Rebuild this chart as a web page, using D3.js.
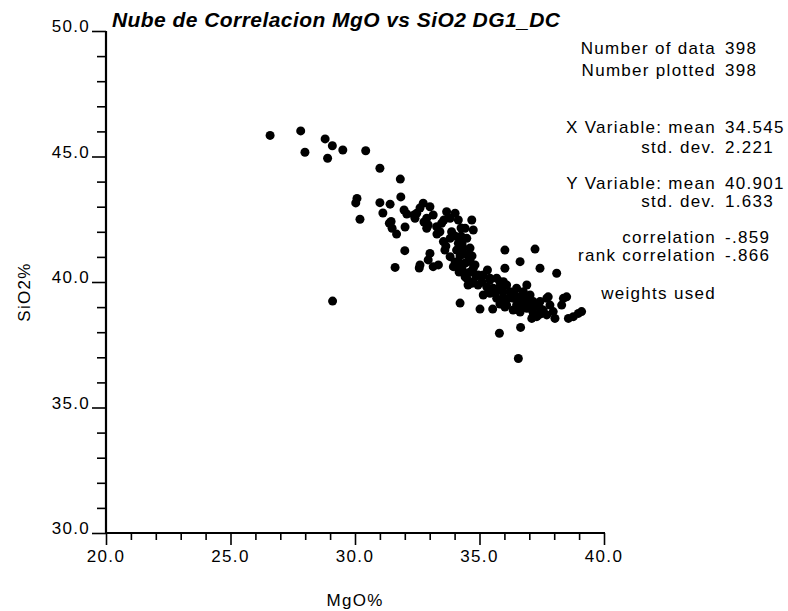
<!DOCTYPE html>
<html><head><meta charset="utf-8">
<script src="https://cdn.jsdelivr.net/npm/d3@7"></script>
<style>
html,body{margin:0;padding:0;background:#fff;}
svg text{font-family:"Liberation Sans",Arial,Helvetica,sans-serif;fill:#000;}
</style></head>
<body><svg id="chart" width="788" height="611"></svg>
<script>
const titleText = "Nube de Correlacion MgO vs SiO2 DG1_DC";
const xLabel = "MgO%";
const yLabel = "SiO2%";
const xTicks = [20, 25, 30, 35, 40];
const yTicks = [30, 35, 40, 45, 50];
const statLabels = ["Number of data","Number plotted","X Variable: mean","std. dev.","Y Variable: mean","std. dev.","correlation","rank correlation","weights used"];
const statValues = ["398","398","34.545","2.221","40.901","1.633","-.859","-.866",""];
const mgo = [26.59,27.82,27.99,28.80,29.09,29.51,28.90,30.43,31.00,31.82,30.08,30.03,30.20,31.00,31.41,31.12,31.84,31.97,32.08,31.45,31.38,31.49,31.67,32.01,32.37,32.00,31.61,32.58,29.10,
32.74,33.01,32.48,32.41,32.88,33.14,32.94,33.28,33.48,33.68,34.02,34.15,33.82,33.41,33.55,33.82,33.88,34.69,34.75,34.42,34.49,34.15,34.08,34.35,34.49,34.55,34.15,33.82,33.01,32.94,32.61,33.14,33.35,33.95,34.35,34.49,34.75,34.82,34.95,35.15,35.42,35.82,36.09,36.02,36.02,32.88,
34.08,34.42,34.62,34.75,34.42,34.69,36.63,37.43,35.42,35.69,35.96,35.29,35.55,35.82,36.22,36.49,36.76,36.63,36.90,37.03,37.16,37.30,37.43,35.15,35.42,36.36,36.49,36.76,37.03,37.16,37.30,37.56,37.70,37.70,35.69,35.96,36.09,34.22,35.02,35.53,36.02,36.65,35.80,36.56,37.23,38.10,36.90,37.10,36.90,37.43,37.76,37.83,37.96,38.03,38.37,38.50,38.30,38.57,38.77,38.97,39.10,
34.94,35.32,34.26,34.22,33.61,
34.26,34.02,34.30,34.62,34.26,34.70,34.02,34.30,34.62,34.18,34.86,34.54,35.10,35.34,35.66,35.94,36.18,36.39,36.59,36.87,36.35,37.03,36.63,37.43,37.16,35.82,33.57,33.29,33.65,32.77,32.61];
const sio2 = [45.84,46.02,45.17,45.70,45.43,45.26,44.93,45.23,44.53,44.10,43.33,43.15,42.50,43.16,43.10,42.75,43.39,42.87,42.71,42.41,42.34,42.14,41.91,42.19,42.67,41.25,40.58,40.56,39.24,
43.14,43.00,42.74,42.54,42.54,42.67,42.27,42.20,42.34,42.80,42.74,42.47,42.54,42.00,41.61,41.74,42.00,42.47,42.07,42.14,41.74,41.54,41.27,41.34,41.08,40.81,40.81,41.01,41.14,40.88,40.68,40.61,40.68,40.61,40.41,40.15,40.01,40.68,40.28,40.28,40.15,40.01,39.88,41.27,40.55,42.14,
40.61,40.75,40.88,40.55,40.21,39.95,40.81,40.55,40.08,40.15,40.01,39.81,39.75,39.81,39.61,39.75,39.61,39.41,39.35,39.48,39.22,39.08,38.95,39.48,39.55,39.35,39.08,39.08,38.95,38.75,38.62,38.88,38.69,39.35,39.35,39.35,39.08,39.16,38.92,38.92,39.00,38.19,37.96,36.95,41.31,40.35,39.88,38.55,38.95,39.22,39.41,39.08,38.82,38.55,39.35,39.41,39.08,38.55,38.62,38.75,38.82,
39.88,40.48,41.83,41.04,41.27,
42.15,41.83,41.51,41.35,41.08,41.04,40.80,40.64,40.40,40.40,40.24,39.88,40.00,39.76,39.60,39.60,39.36,39.60,39.24,39.16,38.88,39.24,38.80,38.72,38.96,39.12,42.47,41.91,41.43,42.39,42.95];

const svg = d3.select("#chart");
const x = d3.scaleLinear().domain([20, 40]).range([106, 604]);
const y = d3.scaleLinear().domain([30, 50]).range([533, 31]);
const fs = 17, ls = 1.3;

// x axis
const gx = svg.append("g").attr("transform", `translate(0,${y(30)})`);
gx.call(d3.axisBottom(x).tickValues(d3.range(20, 40.001, 1)).tickSize(7).tickFormat(""))
gx.select(".domain").remove();
gx.selectAll(".tick line").attr("stroke","#000").attr("stroke-width",1.6)
  .attr("y2", d => (Math.abs(d % 5) < 1e-6) ? 12 : 7);
svg.append("line").attr("x1", x(20)-1).attr("x2", x(40)+1).attr("y1", y(30)).attr("y2", y(30))
  .attr("stroke","#000").attr("stroke-width",2.2);
svg.selectAll("text.xt").data(xTicks).join("text").attr("class","xt")
  .attr("x", d => x(d)).attr("y", 562).attr("text-anchor","middle")
  .style("font-size", fs+"px").style("letter-spacing", ls+"px")
  .text(d => d.toFixed(1));

// y axis
const gy = svg.append("g").attr("transform", `translate(${x(20)},0)`);
gy.call(d3.axisLeft(y).tickValues(d3.range(30, 50.001, 1)).tickSize(9).tickFormat(""));
gy.select(".domain").remove();
gy.selectAll(".tick line").attr("stroke","#000").attr("stroke-width",1.6)
  .attr("x2", d => (Math.abs(d % 5) < 1e-6) ? -14 : -9);
svg.append("line").attr("x1", x(20)).attr("x2", x(20)).attr("y1", y(50)).attr("y2", y(30)+1)
  .attr("stroke","#000").attr("stroke-width",2.2);
svg.selectAll("text.yt").data(yTicks).join("text").attr("class","yt")
  .attr("x", 90).attr("y", d => y(d)+1).attr("text-anchor","end")
  .style("font-size", fs+"px").style("letter-spacing", ls+"px")
  .text(d => d.toFixed(1));

// axis labels
svg.append("text").attr("x", 355).attr("y", 606).attr("text-anchor","middle")
  .style("font-size", fs+"px").style("letter-spacing", ls+"px").text(xLabel);
svg.append("text").attr("transform","translate(30,292) rotate(-90)").attr("text-anchor","middle")
  .style("font-size", fs+"px").style("letter-spacing", ls+"px").text(yLabel);

// title
svg.append("text").attr("x", 112).attr("y", 27)
  .style("font-size","21px").style("font-weight","bold").style("font-style","italic")
  .attr("textLength", 448).attr("lengthAdjust","spacing").text(titleText);

// stats
const statY = [54, 76, 133, 153, 189, 207, 243, 261, 299];
svg.selectAll("text.sl").data(statLabels).join("text").attr("class","sl")
  .attr("x", 716).attr("y", (d,i) => statY[i]).attr("text-anchor","end")
  .style("font-size", fs+"px").style("letter-spacing", ls+"px").text(d => d);
svg.selectAll("text.sv").data(statValues).join("text").attr("class","sv")
  .attr("x", 725).attr("y", (d,i) => statY[i])
  .style("font-size", fs+"px").style("letter-spacing", ls+"px").text(d => d);

// points
const pts = mgo.map((m, i) => ({m, s: sio2[i]}));
svg.append("g").selectAll("circle").data(pts).join("circle")
  .attr("cx", d => x(d.m)).attr("cy", d => y(d.s)).attr("r", 4.5).attr("fill","#000");
</script></body></html>
